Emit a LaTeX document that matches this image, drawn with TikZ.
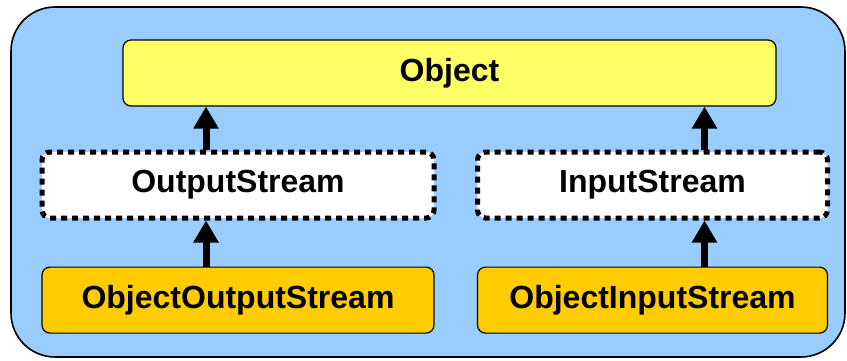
\documentclass[tikz,border=0pt]{standalone}
\usepackage{fontspec}
\setmainfont{Liberation Sans}
\usetikzlibrary{positioning,arrows.meta}
\definecolor{paneblue}{RGB}{153,204,255}
\definecolor{rootyellow}{RGB}{255,255,102}
\definecolor{classorange}{RGB}{255,204,0}

\begin{document}
\begin{tikzpicture}[
box/.style={rounded corners=4pt, draw=black, line width=0.6pt, minimum height=33pt, font=\fontsize{16}{19}\selectfont\bfseries},
root/.style={box, fill=rootyellow, minimum width=326.5pt},
abstract/.style={box, fill=white, line width=2.5pt, dash pattern=on 3pt off 2.5pt},
concrete/.style={box, fill=classorange},
arr/.style={-{Triangle[width=12pt,length=11pt]}, line width=3.5pt}
]
\useasboundingbox (0,0) rectangle (423.5pt,180pt);
%Background
\draw[fill=paneblue, line width=0.8pt, rounded corners=22pt] (5.5pt,1.5pt) rectangle (422.5pt,176.5pt);
%Nodes
\node[root]      (obj)    at (224.75pt,143.5pt)                       {Object};
\node[abstract, minimum width=196pt]   (out)  at (119pt,87.5pt)        {OutputStream};
\node[abstract, minimum width=175pt]   (in)   at (326.25pt,87.5pt)     {InputStream};
\node[concrete, minimum width=196pt]   (oout) [below=23pt of out]      {ObjectOutputStream};
\node[concrete, minimum width=175pt]   (oin)  [below=23pt of in]       {ObjectInputStream};
%Lines
\draw[arr] ([xshift=-16pt]out.north) -- ([xshift=-16pt]out.north |- obj.south);
\draw[arr] ([xshift=26pt]in.north) -- ([xshift=26pt]in.north |- obj.south);
\draw[arr] ([xshift=-16pt]oout.north) -- ([xshift=-16pt]oout.north |- out.south);
\draw[arr] ([xshift=26pt]oin.north) -- ([xshift=26pt]oin.north |- in.south);
\end{tikzpicture}
\end{document}
